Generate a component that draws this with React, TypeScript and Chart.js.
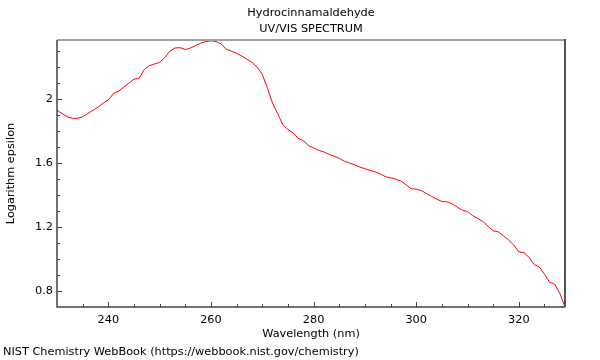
import { useEffect, useRef } from "react";
import { Chart, registerables } from "chart.js";

Chart.register(...registerables);

const wavelengths = [
  230, 231, 232, 233, 234, 235, 236, 237, 238, 239,
  240, 241, 242, 243, 244, 245, 246, 247, 248, 249,
  250, 251, 252, 253, 254, 255, 256, 257, 258, 259,
  260, 261, 262, 263, 264, 265, 266, 267, 268, 269,
  270, 271, 272, 273, 274, 275, 276, 277, 278, 279,
  280, 281, 282, 283, 284, 285, 286, 287, 288, 289,
  290, 291, 292, 293, 294, 295, 296, 297, 298, 299,
  300, 301, 302, 303, 304, 305, 306, 307, 308, 309,
  310, 311, 312, 313, 314, 315, 316, 317, 318, 319,
  320, 321, 322, 323, 324, 325, 326, 327, 328, 329,
];

const logEpsilon = [
  1.93, 1.91, 1.89, 1.88, 1.88, 1.89, 1.91, 1.93, 1.95, 1.975,
  1.995, 2.035, 2.05, 2.075, 2.1, 2.125, 2.13, 2.185, 2.21, 2.22,
  2.23, 2.26, 2.3, 2.32, 2.322, 2.31, 2.32, 2.335, 2.35, 2.36,
  2.365, 2.36, 2.345, 2.312, 2.3, 2.287, 2.27, 2.25, 2.23, 2.2,
  2.155, 2.07, 1.975, 1.91, 1.84, 1.81, 1.79, 1.755, 1.74, 1.71,
  1.695, 1.68, 1.67, 1.655, 1.643, 1.63, 1.612, 1.6, 1.59, 1.575,
  1.565, 1.555, 1.545, 1.533, 1.515, 1.508, 1.5, 1.488, 1.465, 1.44,
  1.437, 1.428, 1.41, 1.392, 1.375, 1.36, 1.358, 1.345, 1.325, 1.305,
  1.297, 1.272, 1.253, 1.235, 1.205, 1.177, 1.17, 1.145, 1.12, 1.088,
  1.045, 1.04, 1.01, 0.965, 0.95, 0.905, 0.855, 0.842, 0.785, 0.7,
];

const xTickValues = [240, 260, 280, 300, 320];
const xMinorTickValues = [235, 245, 250, 255, 265, 270, 275, 285, 290, 295, 305, 310, 315, 325];
const yTickValues = [0.8, 1.2, 1.6, 2];
const yMinorTickValues = [0.9, 1.0, 1.1, 1.3, 1.4, 1.5, 1.7, 1.8, 1.9, 2.1, 2.2, 2.3];

const titleLines = ["Hydrocinnamaldehyde", "UV/VIS SPECTRUM"];
const xTitle = "Wavelength (nm)";
const yTitle = "Logarithm epsilon";
const footerText = "NIST Chemistry WebBook (https://webbook.nist.gov/chemistry)";

const FONT = "'DejaVu Sans', sans-serif";
const FSIZE = 11.3;

const decorPlugin = {
  id: "decor",
  afterDraw(chart: any) {
    const { ctx, chartArea: a, scales } = chart;
    const xs = scales.x;
    const ys = scales.y;
    ctx.save();
    // inward tick marks
    ctx.strokeStyle = "#444";
    ctx.lineWidth = 1;
    const vline = (v: number, len: number) => {
      const px = Math.round(xs.getPixelForValue(v)) + 0.5;
      ctx.beginPath();
      ctx.moveTo(px, a.bottom);
      ctx.lineTo(px, a.bottom - len);
      ctx.stroke();
    };
    const hline = (v: number, len: number) => {
      const py = Math.round(ys.getPixelForValue(v)) + 0.5;
      ctx.beginPath();
      ctx.moveTo(a.left, py);
      ctx.lineTo(a.left + len, py);
      ctx.stroke();
    };
    xTickValues.forEach((v) => vline(v, 5));
    xMinorTickValues.forEach((v) => vline(v, 3));
    yTickValues.forEach((v) => hline(v, 5));
    yMinorTickValues.forEach((v) => hline(v, 3));

    // frame
    ctx.strokeStyle = "#a0a0a0";
    ctx.lineWidth = 2;
    ctx.beginPath();
    ctx.moveTo(a.left, a.top);
    ctx.lineTo(a.right, a.top);
    ctx.stroke();
    ctx.strokeStyle = "#555";
    ctx.lineWidth = 2;
    ctx.beginPath();
    ctx.moveTo(a.right, a.top - 1);
    ctx.lineTo(a.right, a.bottom);
    ctx.stroke();
    ctx.strokeStyle = "#444";
    ctx.lineWidth = 1.5;
    ctx.beginPath();
    ctx.moveTo(a.left, a.top);
    ctx.lineTo(a.left, a.bottom);
    ctx.lineTo(a.right, a.bottom);
    ctx.stroke();

    // titles
    ctx.fillStyle = "#000";
    ctx.font = `${FSIZE}px ${FONT}`;
    ctx.textAlign = "center";
    ctx.textBaseline = "middle";
    const cx = (a.left + a.right) / 2;
    titleLines.forEach((t, i) => ctx.fillText(t, cx, 13.5 + i * 16));
    ctx.textAlign = "left";
    ctx.fillText(footerText, 3, 352.5);
    ctx.restore();
  },
};

export default function App() {
  const ref = useRef<HTMLCanvasElement | null>(null);
  useEffect(() => {
    if (!ref.current) return;
    const chart = new Chart(ref.current, {
      type: "line",
      data: {
        datasets: [
          {
            data: wavelengths.map((w, i) => ({ x: w, y: logEpsilon[i] })),
            borderColor: "#ff0000",
            borderWidth: 1,
            pointRadius: 0,
            tension: 0,
            fill: false,
          },
        ],
      },
      options: {
        animation: false,
        responsive: false,
        layout: { padding: { top: 40, right: 35, bottom: 15, left: 0 } },
        plugins: {
          legend: { display: false },
          tooltip: { enabled: false },
          title: { display: false },
        },
        scales: {
          x: {
            type: "linear",
            min: 230,
            max: 329,
            grid: { display: false, drawTicks: false },
            border: { display: false },
            afterBuildTicks: (s: any) => {
              s.ticks = xTickValues.map((v) => ({ value: v }));
            },
            afterFit: (s: any) => {
              s.height = 38;
            },
            ticks: {
              autoSkip: false,
              maxRotation: 0,
              padding: 6,
              color: "#000",
              font: { family: FONT, size: FSIZE },
              callback: (v: any) => String(v),
            },
            title: {
              display: true,
              text: xTitle,
              color: "#000",
              font: { family: FONT, size: FSIZE },
              padding: { top: 0, bottom: 4 },
            },
          },
          y: {
            type: "linear",
            min: 0.7,
            max: 2.37,
            grid: { display: false, drawTicks: false },
            border: { display: false },
            afterBuildTicks: (s: any) => {
              s.ticks = yTickValues.map((v) => ({ value: v }));
            },
            afterFit: (s: any) => {
              s.width = 57;
            },
            ticks: {
              autoSkip: false,
              padding: 4,
              color: "#000",
              font: { family: FONT, size: FSIZE },
              callback: (v: any) => String(v),
            },
            title: {
              display: true,
              text: yTitle,
              color: "#000",
              font: { family: FONT, size: FSIZE },
              padding: { top: 4, bottom: 0 },
            },
          },
        },
      },
      plugins: [decorPlugin],
    } as any);
    return () => chart.destroy();
  }, []);
  return (
    <div style={{ position: "fixed", left: 0, top: 0, width: 600, height: 360, background: "#fff" }}>
      <canvas ref={ref} width={600} height={360} style={{ display: "block" }} />
    </div>
  );
}
